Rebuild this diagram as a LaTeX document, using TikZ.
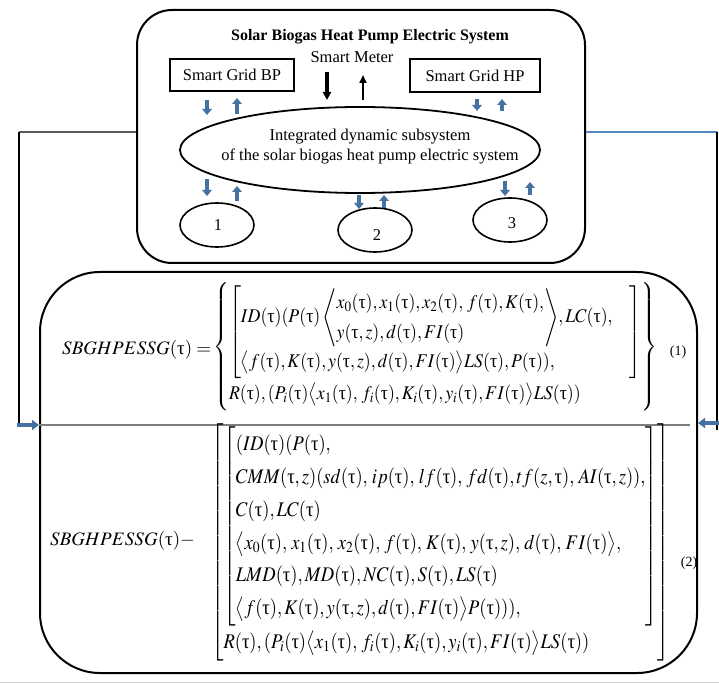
\documentclass[tikz,border=0pt]{standalone}
\usepackage{mathptmx}
\usepackage{fontspec}
\setmainfont{Liberation Serif}
\usetikzlibrary{arrows.meta,shapes.geometric}
\newcommand\tauu{\mbox{τ}}
\definecolor{arrblue}{RGB}{68,114,163}
\definecolor{lineblue}{RGB}{85,135,195}
\definecolor{divgray}{RGB}{125,125,125}
\tikzset{
  lbl/.style={inner sep=0pt, font=\fontsize{16.5}{20}\selectfont},
  bigbox/.style={draw, line width=2pt, rounded corners=#1},
  gridbox/.style={draw, line width=1.5pt, inner sep=0pt},
  oval/.style={draw, ellipse, line width=1.6pt, inner sep=0pt, minimum width=74pt, minimum height=44pt},
  barrow/.style={draw=arrblue, line width=3.6pt, -{Triangle[width=9.5pt,length=6pt]}},
  karrow/.style={draw=black, -{Triangle[width=8pt,length=8pt]}},
  eqtext/.style={inner sep=0pt, font=\fontsize{19}{23}\selectfont},
}
\begin{document}
\begin{tikzpicture}[x=1pt,y=-1pt]
\useasboundingbox (0,0) rectangle (719,684);

% upper block: the system
\node[bigbox=35pt, minimum width=448pt, minimum height=253pt] (sys) at (361,136.5) {};
\node[lbl, font=\fontsize{16}{20}\selectfont\bfseries] (title) at (370,37) {Solar Biogas Heat Pump Electric System};
\node[lbl] (meter) at (352,57) {Smart Meter};
\node[gridbox, minimum width=124pt, minimum height=32pt, font=\fontsize{16.5}{20}\selectfont] (bp) at (232,75) {Smart Grid BP};
\node[gridbox, minimum width=130pt, minimum height=33pt, font=\fontsize{16.5}{20}\selectfont] (hp) at (475,75.5) {Smart Grid HP};

% meter arrows
\draw[karrow, line width=3.2pt] (327,72) -- (327,100);
\draw[karrow, line width=2.2pt, -{Triangle[width=7pt,length=8pt]}] (363,100) -- (363,75);

% grid exchange arrows
\draw[barrow] (207,100) -- (207,115);
\draw[barrow] (237,114) -- (237,98);
\draw[barrow] (477,99) -- (477,111);
\draw[barrow] (502,111) -- (502,99);

% integrated subsystem
\node[draw, ellipse, line width=1.8pt, minimum width=360pt, minimum height=86pt, inner sep=0pt] (core) at (360,150) {};
\node[lbl, align=center, font=\fontsize{16.5}{20}\selectfont] (coretxt) at (370,147) {Integrated dynamic subsystem\\of the solar biogas heat pump electric system};

% subsystem exchange arrows
\draw[barrow] (207,179) -- (207,196);
\draw[barrow] (237,201) -- (237,186);
\draw[barrow] (359,195) -- (359,209);
\draw[barrow] (384,209) -- (384,195);
\draw[barrow] (505,181) -- (505,196);
\draw[barrow] (530,195) -- (530,182);

% sub-units
\node[oval] (u1) at (217,225) {};
\node[oval] (u2) at (375,230) {};
\node[oval] (u3) at (510,220) {};
\node[lbl] (n1) at (218,225) {1};
\node[lbl] (n2) at (377,235) {2};
\node[lbl] (n3) at (512,223) {3};

% lower block: the model
\node[bigbox=60pt, minimum width=657pt, minimum height=401pt] (model) at (368.5,472.5) {};
\draw[divgray, line width=1.8pt] ([yshift=47.5pt]model.west) -- (690,425);

% links between the blocks
\coordinate (lk1) at (19,132);
\coordinate (lk2) at (19,425);
\coordinate (rk1) at (717,132);
\coordinate (rk2) at (717,423);
\draw[line width=1.5pt, gray!70!black] ([yshift=4.5pt]sys.west) -- (lk1);
\draw[line width=1.6pt] (lk1) -- ([yshift=1pt]lk2);
\draw[barrow, -{Triangle[width=10pt,length=7pt]}] ([xshift=-2pt]lk2) -- ([yshift=47.5pt]model.west);
\draw[line width=1.6pt, lineblue] ([yshift=4.5pt]sys.east) -- (rk1);
\draw[line width=1.6pt] (rk1) -- (717,430);
\draw[barrow, -{Triangle[width=10pt,length=7pt]}] ([xshift=2pt]rk2) -- ([yshift=49.5pt]model.east);

% equation (1)
\node[eqtext, anchor=west] (lhs1) at (62,350) {$SBGHPESSG(\tauu)=$};
\node[eqtext, anchor=west] (rhs1) at (213,347) {\resizebox*{444pt}{128pt}{$\displaystyle
\renewcommand\arraystretch{1.25}
\left\{\begin{array}{@{}l@{}}
\left[\begin{array}{@{}l@{}}
ID(\tauu)(P(\tauu)\left\langle\begin{array}{@{}l@{}}x_0(\tauu),x_1(\tauu),x_2(\tauu),\,f(\tauu),K(\tauu),\\ y(\tauu,z),d(\tauu),FI(\tauu)\end{array}\right\rangle\!,LC(\tauu),\hspace{18pt}\\
\bigl\langle f(\tauu),K(\tauu),y(\tauu,z),d(\tauu),FI(\tauu)\bigr\rangle LS(\tauu),P(\tauu)),
\end{array}\right]\\
R(\tauu),(P_i(\tauu)\bigl\langle x_1(\tauu),\,f_i(\tauu),K_i(\tauu),y_i(\tauu),FI(\tauu)\bigr\rangle LS(\tauu))
\end{array}\right\}$}};
\node[lbl, font=\fontsize{14}{16}\selectfont] (tag1) at (678,352) {(1)};

% equation (2)
\node[eqtext, anchor=west] (lhs2) at (50,541) {$SBGHPESSG(\tauu)-$};
\node[eqtext, anchor=west] (rhs2) at (211,542.5) {\resizebox*{459pt}{237pt}{$\displaystyle
\renewcommand\arraystretch{1.3}
\left[\begin{array}{@{}l@{}}
\left[\begin{array}{@{}l@{}}
(ID(\tauu)(P(\tauu),\\
CMM(\tauu,z)(sd(\tauu),\,ip(\tauu),\,lf(\tauu),\,fd(\tauu),tf(z,\tauu),\,AI(\tauu,z)),\\
C(\tauu),LC(\tauu)\\
\bigl\langle x_0(\tauu),\,x_1(\tauu),\,x_2(\tauu),\,f(\tauu),\,K(\tauu),\,y(\tauu,z),\,d(\tauu),\,FI(\tauu)\bigr\rangle,\\
LMD(\tauu),MD(\tauu),NC(\tauu),S(\tauu),LS(\tauu)\\
\bigl\langle f(\tauu),K(\tauu),y(\tauu,z),d(\tauu),FI(\tauu)\bigr\rangle P(\tauu))),
\end{array}\right]\\
R(\tauu),(P_i(\tauu)\bigl\langle x_1(\tauu),\,f_i(\tauu),K_i(\tauu),y_i(\tauu),FI(\tauu)\bigr\rangle LS(\tauu))
\end{array}\right]$}};
\node[lbl, font=\fontsize{14}{16}\selectfont] (tag2) at (689,563) {(2)};

% page rule
\draw[gray!35, line width=1pt] (0,682.5) -- (719,682.5);
\end{tikzpicture}
\end{document}
